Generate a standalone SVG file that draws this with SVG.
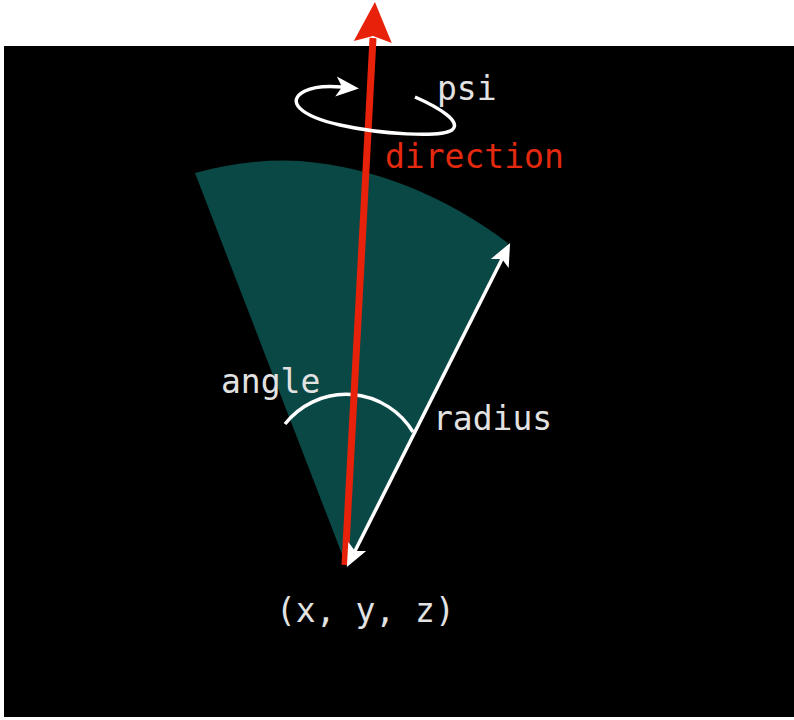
<svg xmlns="http://www.w3.org/2000/svg" width="794" height="720" viewBox="0 0 794 720">
<style>
.lbl{font-family:"DejaVu Sans Mono","Liberation Mono",monospace;font-size:33px;fill:#e2e2e2}
.red{fill:#e3290f}
.wl{fill:none;stroke:#fff;stroke-width:3.5}
</style>
<defs>
<marker id="hr" markerUnits="userSpaceOnUse" orient="auto" markerWidth="60" markerHeight="60" viewBox="-10 -30 60 60" refX="0" refY="0">
<path d="M36,0 L-4,-19 L2,0 L-4,19 Z" fill="#e8220a"/>
</marker>
<marker id="hw" markerUnits="userSpaceOnUse" orient="auto-start-reverse" markerWidth="40" markerHeight="40" viewBox="-10 -20 40 40" refX="0" refY="0">
<path d="M18,0 L-5,-10 L0,0 L-5,10 Z" fill="#fff"/>
</marker>
<marker id="hp" markerUnits="userSpaceOnUse" orient="auto" markerWidth="40" markerHeight="40" viewBox="-10 -20 40 40" refX="0" refY="0">
<path d="M17,0 L-6,-10 L0,0 L-6,10 Z" fill="#fff"/>
</marker>
</defs>
<rect x="0" y="0" width="794" height="720" fill="#fff"/>
<rect id="background" x="4" y="46" width="790" height="671" fill="#000"/>
<g id="sector">
<path d="M195,173 Q250,158 300,161 Q410,170 508,243 L347,567 Z" fill="#0a4846"/>
</g>
<g id="connectors">
<path id="angle-arc" class="wl" d="M285,424 A78,78 0 0 1 413,432"/>
<line id="direction-arrow" x1="345" y1="565" x2="373" y2="38" stroke="#e8220a" stroke-width="7" marker-end="url(#hr)"/>
<line id="radius-arrow" x1="355" y1="551" x2="502" y2="259" class="wl" marker-start="url(#hw)" marker-end="url(#hw)"/>
<path id="psi-loop" class="wl" d="M415,97 C440,108 462,122 452,130 C440,138 380,134 340,125 C300,116 285,101 305,91 C315,86 330,86 342,87" marker-end="url(#hp)"/>
</g>
<g id="labels">
<text id="psi" class="lbl" x="437" y="100">psi</text>
<text id="direction" class="lbl red" x="385" y="168">direction</text>
<text id="angle" class="lbl" x="221" y="393">angle</text>
<text id="radius" class="lbl" x="433" y="430">radius</text>
<text id="origin" class="lbl" x="276" y="622">(x, y, z)</text>
</g>
</svg>
